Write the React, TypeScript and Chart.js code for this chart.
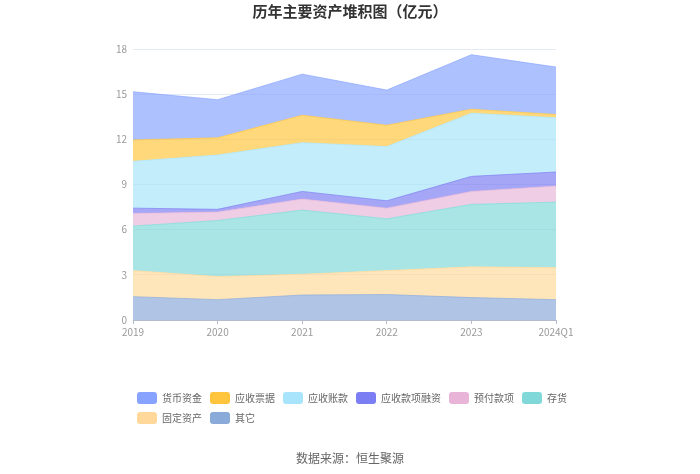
import React, { useEffect, useRef } from "react";
import { Chart, registerables } from "chart.js";

Chart.register(...registerables);

const years = ["2019", "2020", "2021", "2022", "2023", "2024Q1"];

// values in 亿元
const cash = [3.2, 2.53, 2.73, 2.33, 3.62, 3.15];
const notesReceivable = [1.42, 1.14, 1.82, 1.42, 0.26, 0.22];
const accountsReceivable = [3.11, 3.61, 3.24, 3.6, 4.2, 3.6];
const receivablesFinancing = [0.35, 0.18, 0.51, 0.49, 1.0, 0.93];
const prepayments = [0.84, 0.56, 0.73, 0.71, 0.86, 1.07];
const inventory = [2.96, 3.72, 4.26, 3.44, 4.15, 4.35];
const fixedAssets = [1.73, 1.54, 1.38, 1.59, 2.04, 2.13];
const others = [1.55, 1.35, 1.66, 1.69, 1.49, 1.35];

const yMax = 18;
const yStep = 3;

// bottom of the stack first
const series = [
  { label: "其它", data: others, color: [138, 170, 217] },
  { label: "固定资产", data: fixedAssets, color: [255, 216, 154] },
  { label: "存货", data: inventory, color: [128, 216, 216] },
  { label: "预付款项", data: prepayments, color: [232, 181, 216] },
  { label: "应收款项融资", data: receivablesFinancing, color: [122, 126, 242] },
  { label: "应收账款", data: accountsReceivable, color: [168, 228, 251] },
  { label: "应收票据", data: notesReceivable, color: [255, 197, 61] },
  { label: "货币资金", data: cash, color: [135, 163, 255] },
];

const rgba = (c: number[], a: number) => `rgba(${c[0]}, ${c[1]}, ${c[2]}, ${a})`;

// the legend rows start under the plot, not at the page edge
const legendShift = {
  id: "legendShift",
  afterLayout: (chart: any) => {
    const lg = chart.legend;
    if (!lg) return;
    lg.left += 29;
    lg.right += 29;
  },
};

const App: React.FC = () => {
  const chartRef = useRef<HTMLCanvasElement | null>(null);

  useEffect(() => {
    if (!chartRef.current) return;
    const ctx = chartRef.current.getContext("2d");
    if (!ctx) return;

    Chart.defaults.font.family = "'Noto Sans CJK SC', 'Noto Sans', sans-serif";

    const chart = new Chart(ctx, {
      type: "line",
      data: {
        labels: years,
        datasets: series.map((s, i) => ({
          label: s.label,
          data: s.data,
          backgroundColor: rgba(s.color, 0.68),
          borderColor: rgba(s.color, 0.68),
          borderWidth: 1,
          fill: i === 0 ? "origin" : "-1",
          pointRadius: 0,
          pointHoverRadius: 0,
          tension: 0,
        })),
      },
      options: {
        responsive: true,
        maintainAspectRatio: false,
        animation: false,
        layout: { padding: { left: 100, right: 100, top: 0, bottom: 0 } },
        scales: {
          x: {
            stacked: true,
            offset: false,
            grid: {
              drawOnChartArea: false,
              drawTicks: true,
              tickLength: 4,
              color: "#b4bccb",
            },
            border: { display: true, color: "#b4bccb" },
            ticks: {
              color: "#999",
              font: { size: 10 },
              padding: 2,
              maxRotation: 0,
              autoSkip: false,
            },
            afterFit: (scale) => {
              scale.height = 64;
              scale.paddingLeft = 0;
              scale.paddingRight = 144;
            },
          },
          y: {
            stacked: true,
            min: 0,
            max: yMax,
            grid: { color: "#e6eaf2", drawTicks: false },
            border: { display: false },
            ticks: {
              stepSize: yStep,
              color: "#999",
              font: { size: 10 },
              padding: 6,
            },
            afterFit: (scale) => {
              scale.width = 33;
            },
          },
        },
        plugins: {
          title: {
            display: true,
            text: "历年主要资产堆积图（亿元）",
            color: "#333",
            font: { size: 15, weight: "bold" },
            padding: { top: 2, bottom: 29 },
          },
          subtitle: {
            display: true,
            position: "bottom",
            text: "数据来源：恒生聚源",
            color: "#666",
            font: { size: 12, weight: "normal" },
            padding: { top: 16.8, bottom: 8.8 },
          },
          legend: {
            position: "bottom",
            align: "start",
            reverse: true,
            labels: {
              boxWidth: 20,
              boxHeight: 12,
              padding: 8,
              color: "#666",
              font: { size: 10 },
              useBorderRadius: true,
              borderRadius: 3,
              generateLabels: (c) => {
                const items = Chart.defaults.plugins.legend.labels.generateLabels(c);
                return items.map((item) => {
                  const col = series[item.datasetIndex as number].color;
                  return {
                    ...item,
                    fillStyle: rgba(col, 1),
                    strokeStyle: rgba(col, 1),
                    lineWidth: 0,
                  };
                });
              },
            },
          },
          tooltip: { enabled: false },
        },
      },
      plugins: [legendShift],
    });

    return () => {
      chart.destroy();
    };
  }, []);

  return (
    <div style={{ position: "absolute", left: 0, top: 0, width: 700, height: 474 }}>
      <canvas ref={chartRef} />
    </div>
  );
};

export default App;
